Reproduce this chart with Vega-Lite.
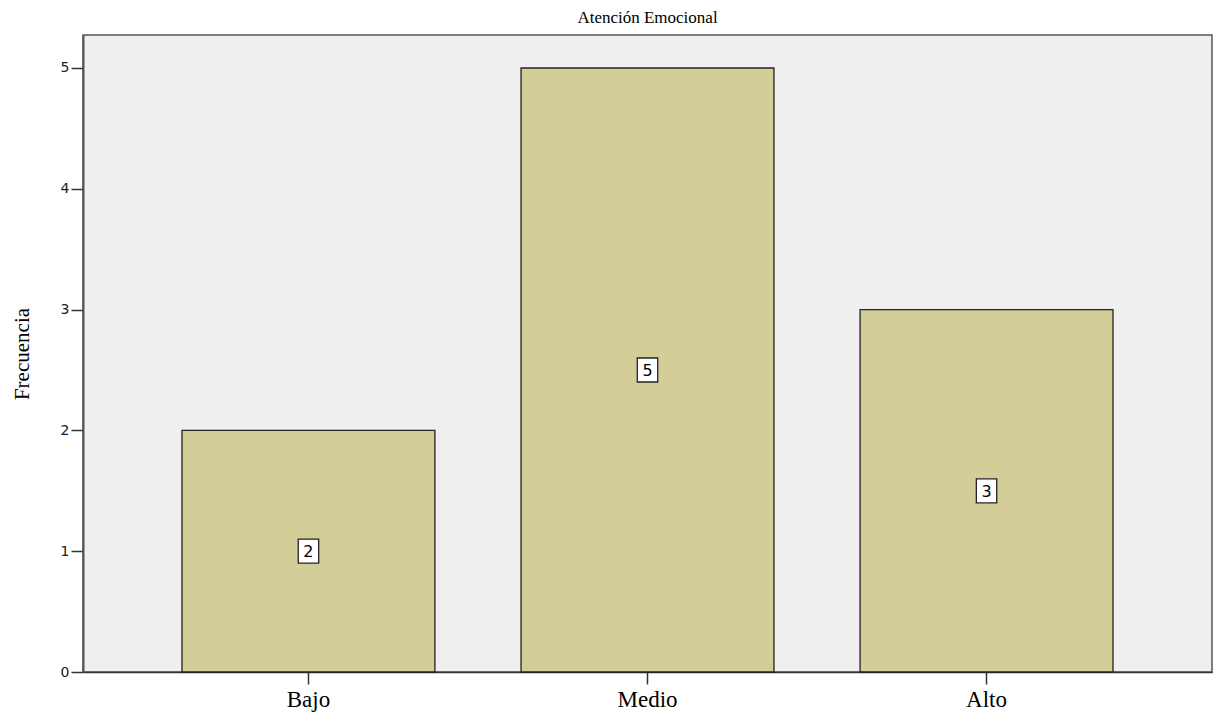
{
  "$schema": "https://vega.github.io/schema/vega-lite/v6.json",
  "autosize": "none",
  "width": 1129,
  "height": 637,
  "padding": {"left": 83, "top": 35, "right": 3, "bottom": 41},
  "background": "white",
  "title": {"text": "Atención Emocional", "font": "Liberation Serif", "fontSize": 17, "fontWeight": "normal", "color": "#000000", "offset": 8, "anchor": "middle"},
  "config": {
    "view": {"fill": "#efefef", "stroke": "#555555", "strokeWidth": 1.5}
  },
  "data": {"values": [
    {"nivel": "Bajo", "frecuencia": 2},
    {"nivel": "Medio", "frecuencia": 5},
    {"nivel": "Alto", "frecuencia": 3}
  ]},
  "encoding": {
    "x": {"field": "nivel", "type": "nominal", "sort": ["Bajo", "Medio", "Alto"],
      "scale": {"paddingInner": 0.254, "paddingOuter": 0.292},
      "axis": {"title": null, "labelAngle": 0, "labelFont": "Liberation Serif", "labelFontSize": 23, "labelColor": "#000000", "labelPadding": 4,
        "domainColor": "#333333", "domainWidth": 1.5, "tickColor": "#333333", "tickSize": 12, "tickWidth": 1.5}}
  },
  "layer": [
    {
      "mark": {"type": "bar", "fill": "#d3ce97", "stroke": "#222222", "strokeWidth": 1.3},
      "encoding": {
        "y": {"field": "frecuencia", "type": "quantitative",
          "scale": {"domain": [0, 5.273], "nice": false},
          "axis": {"title": "Frecuencia", "titleFont": "Liberation Serif", "titleFontSize": 21, "titleFontWeight": "normal", "titleColor": "#000000", "titlePadding": 28,
            "values": [0, 1, 2, 3, 4, 5], "format": "d", "grid": false, "labelFont": "DejaVu Sans", "labelFontSize": 14, "labelColor": "#222222", "labelPadding": 2,
            "domainColor": "#555555", "domainWidth": 2, "tickColor": "#333333", "tickSize": 12, "tickWidth": 1.5}}
      }
    },
    {
      "transform": [{"calculate": "datum.frecuencia / 2", "as": "mid"}],
      "mark": {"type": "point", "shape": "M-0.85,-1L0.85,-1L0.85,1L-0.85,1Z", "size": 576, "filled": true, "fill": "white", "stroke": "#222222", "strokeWidth": 1.3, "opacity": 1},
      "encoding": {"y": {"field": "mid", "type": "quantitative"}}
    },
    {
      "transform": [{"calculate": "datum.frecuencia / 2", "as": "mid"}],
      "mark": {"type": "text", "font": "DejaVu Sans", "fontSize": 16, "color": "#000000", "baseline": "middle", "align": "center", "dy": 1},
      "encoding": {"y": {"field": "mid", "type": "quantitative"}, "text": {"field": "frecuencia", "type": "quantitative"}}
    }
  ]
}
